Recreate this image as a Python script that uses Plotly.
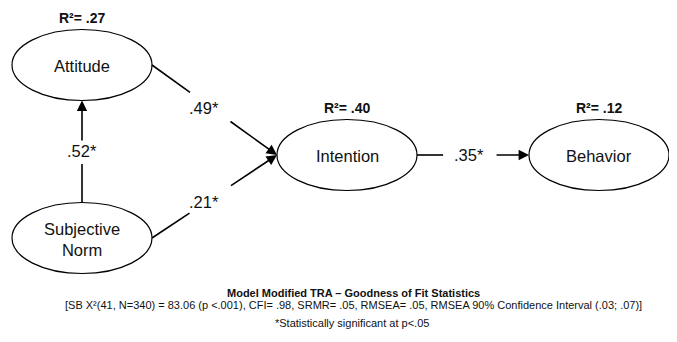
import math
import plotly.graph_objects as go

# ---- data ----
node_names = ["Attitude", "Subjective Norm", "Intention", "Behavior"]
node_labels = ["Attitude", "Subjective<br>Norm", "Intention", "Behavior"]
r_squared = [0.27, None, 0.40, 0.12]

path_from = ["Subjective Norm", "Attitude", "Subjective Norm", "Intention"]
path_to = ["Attitude", "Intention", "Intention", "Behavior"]
path_coef = [0.52, 0.49, 0.21, 0.35]

title_text = "Model Modified TRA \u2013 Goodness of Fit Statistics"
fit_text = ("[SB X\u00b2(41, N=340) = 83.06 (p <.001), CFI= .98, SRMR= .05, "
            "RMSEA= .05, RMSEA 90% Confidence Interval (.03; .07)]")
note_text = "*Statistically significant at p<.05"

# ---- layout (page pixel space; page body has an 8px default margin) ----
W, H = 677, 342
OFF = 8
centers = {
    "Attitude": (82, 65),
    "Subjective Norm": (82, 238),
    "Intention": (347, 155),
    "Behavior": (599, 155),
}
RX, RY = 70, 35.5
FONT = "Liberation Sans, Arial, sans-serif"
LABEL_SIZE = 16.5


def fmt(v):
    return f"{v:.2f}".lstrip("0")


fig = go.Figure()
shapes = []
annotations = []

for name, lab, r2 in zip(node_names, node_labels, r_squared):
    cx, cy = centers[name]
    shapes.append(dict(type="circle", xref="x", yref="y",
                       x0=cx - RX, x1=cx + RX, y0=cy - RY, y1=cy + RY,
                       line=dict(color="black", width=1.2)))
    annotations.append(dict(x=cx, y=cy + 1, xref="x", yref="y", text=lab,
                            showarrow=False,
                            font=dict(family=FONT, size=LABEL_SIZE, color="#111")))
    if r2 is not None:
        annotations.append(dict(x=cx, y=cy - RY - 12, xref="x", yref="y",
                                text="<b>R\u00b2= " + fmt(r2) + "</b>",
                                showarrow=False,
                                font=dict(family=FONT, size=14, color="#111")))

for src, dst, coef in zip(path_from, path_to, path_coef):
    sx, sy = centers[src]
    tx, ty = centers[dst]
    if abs(tx - sx) > abs(ty - sy):
        p0 = (sx + RX, sy)
        p1 = (tx - RX, ty)
    else:
        p0 = (sx, sy - RY) if ty < sy else (sx, sy + RY)
        p1 = (tx, ty + RY) if ty < sy else (tx, ty - RY)
    dx, dy = p1[0] - p0[0], p1[1] - p0[1]
    L = math.hypot(dx, dy)
    ux, uy = dx / L, dy / L
    if abs(dx) < 1:
        t, half = 0.485, 11
    elif abs(dy) < 1:
        t, half = 0.465, 26
    else:
        t, half = 0.46, 24
    gx, gy = p0[0] + dx * t, p0[1] + dy * t
    a = (gx - ux * half, gy - uy * half)
    b = (gx + ux * half, gy + uy * half)
    shapes.append(dict(type="line", xref="x", yref="y",
                       x0=p0[0], y0=p0[1], x1=a[0], y1=a[1],
                       line=dict(color="black", width=1.6)))
    annotations.append(dict(x=p1[0], y=p1[1], ax=b[0], ay=b[1],
                            xref="x", yref="y", axref="x", ayref="y",
                            text="", showarrow=True, arrowhead=2,
                            arrowsize=1.3, arrowwidth=1.6, arrowcolor="black"))
    diag = abs(dx) > 1 and abs(dy) > 1
    annotations.append(dict(x=gx, y=gy, xref="x", yref="y",
                            text=fmt(coef) + "*", showarrow=False,
                            xshift=-6 if diag else 0,
                            yshift=-2 if diag else (2 if abs(dx) < 1 else 0),
                            font=dict(family=FONT, size=LABEL_SIZE, color="#111")))

annotations.append(dict(x=353, y=293, xref="x", yref="y", text="<b>" + title_text + "</b>",
                        showarrow=False, font=dict(family=FONT, size=11, color="#111")))
annotations.append(dict(x=353, y=305, xref="x", yref="y", text=fit_text,
                        showarrow=False, font=dict(family=FONT, size=11, color="#111")))
annotations.append(dict(x=352, y=323, xref="x", yref="y", text=note_text,
                        showarrow=False, font=dict(family=FONT, size=11, color="#111")))

fig.update_layout(
    width=W - OFF, height=H - OFF,
    margin=dict(l=0, r=0, t=0, b=0),
    paper_bgcolor="white", plot_bgcolor="white",
    xaxis=dict(range=[OFF, W], visible=False, fixedrange=True),
    yaxis=dict(range=[H, OFF], visible=False, fixedrange=True),
    shapes=shapes, annotations=annotations, showlegend=False,
)

fig.write_html("out.html")
